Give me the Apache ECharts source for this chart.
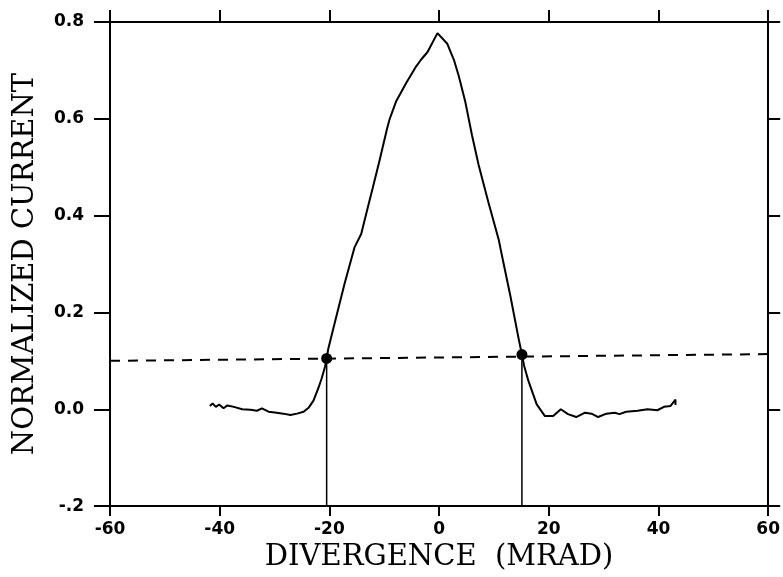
<!DOCTYPE html>
<html>
<head>
<meta charset="utf-8">
<script src="https://cdn.jsdelivr.net/npm/echarts@6/dist/echarts.min.js"></script>
<style>
    html, body { margin: 0; padding: 0; background: #fff; }
    #chart { width: 783px; height: 577px; }
</style>
</head>
<body>
<div id="chart"></div>
<script>
// measured beam profile (mrad, normalized current)
const divergence = [
    -41.8, -41.3, -40.7, -40.1, -39.3, -38.6, -37.4, -35.9, -34.4, -33.2,
    -32.3, -31.1, -29.6, -28.4, -27.1, -25.9, -24.7, -23.8, -22.9, -22.0,
    -21.4, -20.8, -20.5, -20.2, -18.7, -17.2, -15.4, -14.2, -13.0, -12.1,
    -10.9, -9.5, -9.0, -7.8, -6.0, -4.2, -3.3, -2.1, -0.3, 1.5,
    2.7, 3.6, 4.8, 6.0, 7.2, 9.0, 10.9, 11.6, 13.0, 14.5,
    15.1, 15.5, 16.3, 17.8, 19.3, 20.8, 22.2, 23.5, 25.0, 26.6,
    27.8, 29.0, 30.5, 32.0, 32.9, 34.1, 36.2, 38.0, 39.8, 41.0,
    42.2, 43.1, 43.1
]
const current = [
    0.007, 0.012, 0.005, 0.010, 0.002, 0.008, 0.005, 0.000, -0.001, -0.003,
    0.002, -0.005, -0.007, -0.009, -0.012, -0.009, -0.005, 0.003, 0.018, 0.044,
    0.064, 0.088, 0.105, 0.125, 0.193, 0.261, 0.335, 0.362, 0.417, 0.457,
    0.512, 0.579, 0.600, 0.637, 0.674, 0.708, 0.722, 0.738, 0.777, 0.755,
    0.722, 0.688, 0.634, 0.566, 0.505, 0.427, 0.349, 0.310, 0.234, 0.146,
    0.113, 0.090, 0.058, 0.010, -0.014, -0.014, 0.000, -0.010, -0.016, -0.007,
    -0.009, -0.016, -0.009, -0.007, -0.010, -0.005, -0.003, 0.000, -0.002, 0.005,
    0.007, 0.020, 0.009
]

// dashed threshold line and its crossings
const thresholdX = [-60, 60]
const thresholdY = [0.100, 0.114]
const crossingX = [-20.5, 15.1]
const crossingY = [0.105, 0.113]

const xTicks = [-60, -40, -20, 0, 20, 40, 60]
const yTicks = [-0.2, 0.0, 0.2, 0.4, 0.6, 0.8]

const labelFont = {
    color: '#000',
    fontFamily: 'DejaVu Sans',
    fontWeight: 'bold',
    fontSize: 17
}
const nameFont = {
    color: '#000',
    fontFamily: 'DejaVu Serif',
    fontSize: 29
}
const axisLine = { show: true, onZero: false, lineStyle: { color: '#000', width: 2 } }

function yLabel(v) {
    if (Math.abs(v + 0.2) < 1e-6) return '-.2'
    return (Math.abs(v) < 1e-6 ? 0 : v).toFixed(1)
}

const dropLines = []
crossingX.forEach((x, i) => {
    dropLines.push([x, crossingY[i]], [x, yTicks[0]], null)
})

const option = {
    animation: false,
    backgroundColor: '#fff',
    grid: { left: 110, right: 11, top: 22, bottom: 63 },
    xAxis: [{
        type: 'value',
        position: 'bottom',
        min: xTicks[0],
        max: xTicks[xTicks.length - 1],
        interval: 20,
        name: 'DIVERGENCE  (MRAD)',
        nameLocation: 'middle',
        nameGap: 30,
        nameTextStyle: nameFont,
        axisLine: axisLine,
        axisTick: { show: true, inside: false, length: 10, lineStyle: { color: '#000', width: 2 } },
        axisLabel: Object.assign({ margin: 15, formatter: v => String(v) }, labelFont),
        splitLine: { show: false }
    }, {
        type: 'value',
        position: 'top',
        min: xTicks[0],
        max: xTicks[xTicks.length - 1],
        interval: 20,
        axisLine: axisLine,
        axisTick: { show: true, inside: false, length: 12, lineStyle: { color: '#000', width: 2 } },
        axisLabel: { show: false },
        splitLine: { show: false }
    }],
    yAxis: [{
        type: 'value',
        position: 'left',
        min: yTicks[0],
        max: yTicks[yTicks.length - 1],
        interval: 0.2,
        name: 'NORMALIZED CURRENT',
        nameLocation: 'middle',
        nameRotate: 90,
        nameGap: 70,
        nameTextStyle: nameFont,
        axisLine: axisLine,
        axisTick: { show: true, inside: false, length: 16, lineStyle: { color: '#000', width: 2 } },
        axisLabel: Object.assign({ margin: 26, formatter: yLabel }, labelFont),
        splitLine: { show: false }
    }, {
        type: 'value',
        position: 'right',
        min: yTicks[0],
        max: yTicks[yTicks.length - 1],
        interval: 0.2,
        axisLine: axisLine,
        axisTick: { show: true, inside: false, length: 12, lineStyle: { color: '#000', width: 2 } },
        axisLabel: { show: false },
        splitLine: { show: false }
    }],
    series: [{
        type: 'line',
        data: divergence.map((x, i) => [x, current[i]]),
        showSymbol: false,
        lineStyle: { color: '#000', width: 2 }
    }, {
        type: 'line',
        data: thresholdX.map((x, i) => [x, thresholdY[i]]),
        showSymbol: false,
        lineStyle: { color: '#000', width: 2, type: [10, 8] }
    }, {
        type: 'line',
        data: dropLines,
        showSymbol: false,
        connectNulls: false,
        lineStyle: { color: '#000', width: 1.5 }
    }, {
        type: 'scatter',
        data: crossingX.map((x, i) => [x, crossingY[i]]),
        symbolSize: 11,
        itemStyle: { color: '#000', opacity: 1 },
        z: 5
    }]
}

const chartInstance = echarts.init(document.getElementById('chart'))
chartInstance.setOption(option)
</script>
</body>
</html>
